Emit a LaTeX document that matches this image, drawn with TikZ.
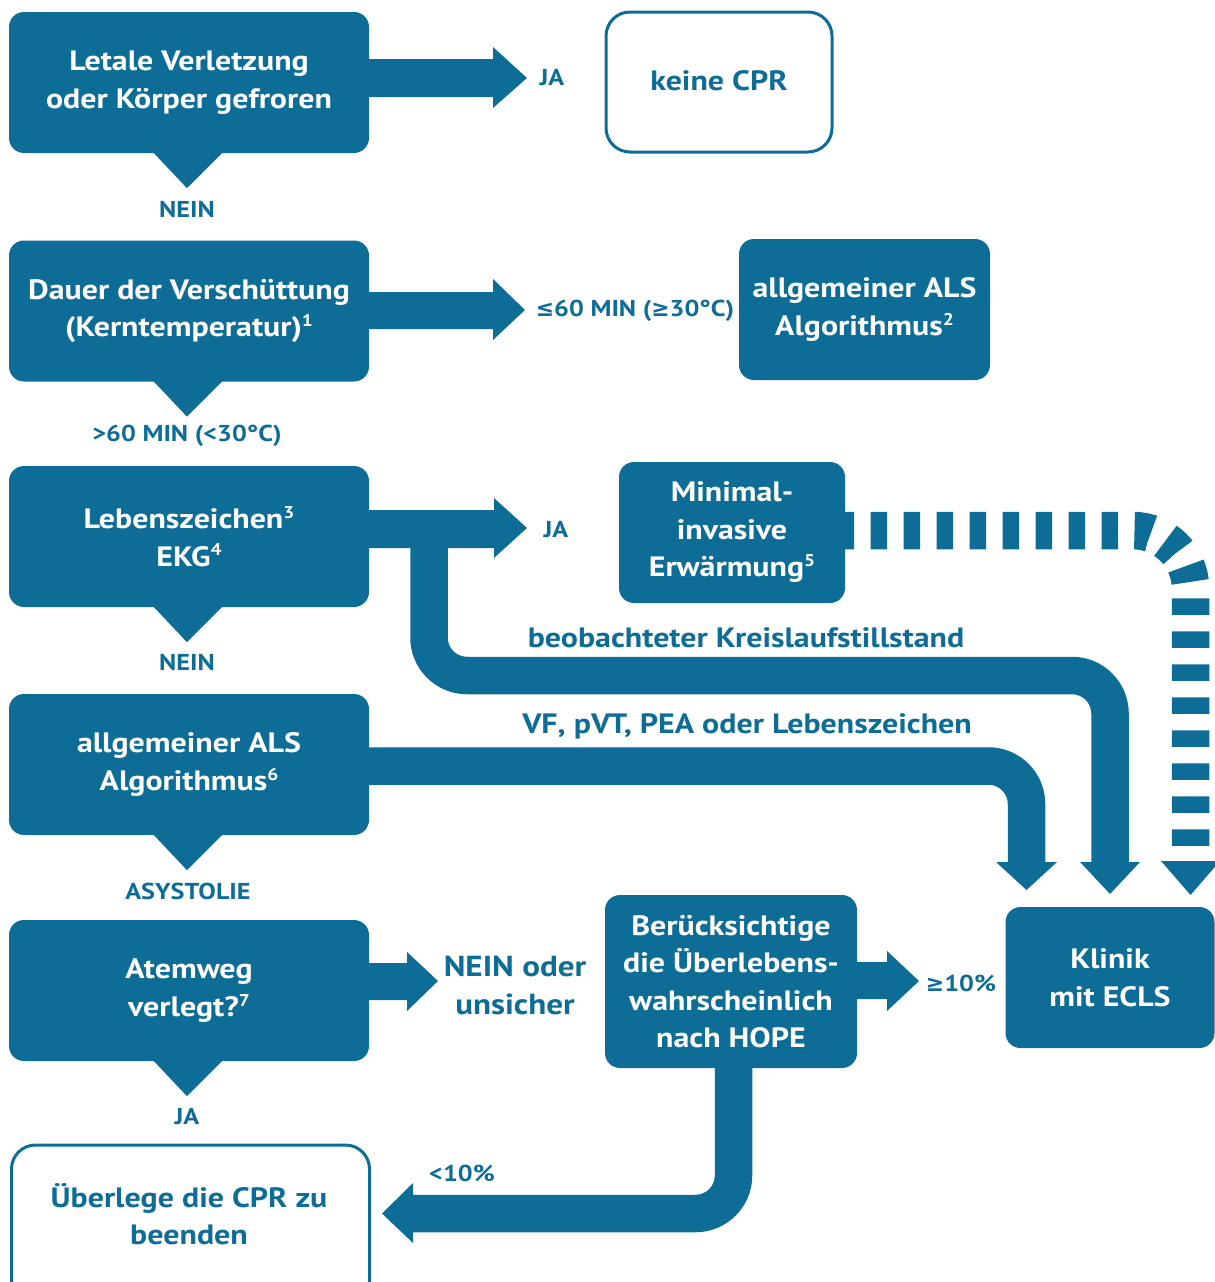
\documentclass[tikz,border=0pt]{standalone}
\usepackage{fontspec}
\setmainfont{PT Sans}[FakeStretch=1.14]
\newfontfamily\symfam{DejaVu Sans}[FakeStretch=0.95]
\definecolor{ercblue}{HTML}{0E6D96}
\newcommand\boxfont{\fontsize{28}{37.5}\selectfont\bfseries}
\newcommand\lblfont{\fontsize{23}{30}\selectfont\bfseries}
\newcommand\midfont{\fontsize{28}{37.5}\selectfont\bfseries}
\newcommand\sym[1]{{\symfam #1}}
\newcommand\sups[1]{\raisebox{0.36em}{\fontsize{17}{17}\selectfont #1}}
\tikzset{
  box/.style={fill=ercblue, rounded corners=15pt, minimum width=360pt,
    minimum height=141pt, text=white, font=\boxfont, align=center, inner sep=0pt},
  openbox/.style={box, fill=white, draw=ercblue, line width=3pt, text=ercblue,
    rounded corners=24pt},
  lbl/.style={text=ercblue, font=\lblfont, align=center, inner sep=0pt},
  conn/.style={draw=ercblue, line width=37.5pt, rounded corners=38pt},
  head/.style={fill=ercblue},
}
\begin{document}
\begin{tikzpicture}[x=1pt, y=-1pt]
\useasboundingbox (0,0) rectangle (1215,1282);

% decision boxes on the left
\node[box] (b1) at (189,82.5) {Letale Verletzung\\oder Körper gefroren};
\node[box] (b2) at (189,311) {Dauer der Verschüttung\\(Kerntemperatur)\sups{1}};
\node[box] (b3) at (189,536.5) {Lebenszeichen\sups{3}\\EKG\sups{4}};
\node[box] (b4) at (189,764.5) {allgemeiner ALS\\Algorithmus\sups{6}};
\node[box] (b5) at (189,990.5) {Atemweg\\verlegt?\sups{7}};
\node[openbox, minimum width=358pt, minimum height=160pt] (b6) at (190.5,1225) {};
\node[lbl, font=\boxfont] (b6text) at (189,1214) {Überlege die CPR zu\\beenden};

% outcome boxes
\node[openbox, minimum width=226pt, minimum height=140pt] (nocpr) at (719,82) {\raisebox{3pt}{keine CPR}};
\node[box, minimum width=251pt] (als) at (864.5,309.5) {allgemeiner ALS\\Algorithmus\sups{2}};
\node[box, minimum width=226pt] (warm) at (732,532.5) {Minimal-\\invasive\\Erwärmung\sups{5}};
\node[box, minimum width=252pt, minimum height=173pt] (hope) at (731,981.5)
  {Berücksichtige\\die Überlebens-\\wahrscheinlich\\nach HOPE};
\node[box, minimum width=209pt] (ecls) at (1110,977.5) {Klinik\\mit ECLS};

% pointers under the decision boxes
\foreach \b in {b1,b2,b3,b4,b5}
  \fill[ercblue] ([xshift=-36pt,yshift=1pt]\b.south) -- ([xshift=34pt,yshift=1pt]\b.south)
    -- ([xshift=-2pt,yshift=-35pt]\b.south) -- cycle;

% labels
\node[lbl] (l1) at (187,209) {NEIN};
\node[lbl] (l2) at (187,436) {>60 MIN (<30°C)};
\node[lbl] (l3) at (187,662) {NEIN};
\node[lbl] (l4) at (188,891) {ASYSTOLIE};
\node[lbl] (l5) at (187,1117) {JA};
\node[lbl] (r1) at (552,78) {JA};
\node[lbl] (r2) at (635,311) {\sym{≤}60 MIN (\sym{≥}30°C)};
\node[lbl] (r3) at (556,530) {JA};
\node[lbl, font=\fontsize{29}{38}\selectfont\bfseries] (r5) at (515,985) {NEIN oder\\unsicher};
\node[lbl] (r6) at (961,983) {\sym{≥}10\%};
\node[lbl] (r7) at (462,1173) {<10\%};
\node[lbl, font=\midfont] (k1) at (746,638) {beobachteter Kreislaufstillstand};
\node[lbl, font=\midfont] (k2) at (747,726) {VF, pVT, PEA oder Lebenszeichen};

% straight block arrows
\fill[ercblue] (b1.east |- 0,59) -- (493,59) -- (493,47) -- (527,78) -- (493,108) -- (493,97) -- (b1.east |- 0,97) -- cycle;
\fill[ercblue] (b2.east |- 0,292) -- (493,292) -- (493,279) -- (525,310) -- (493,340) -- (493,329) -- (b2.east |- 0,329) -- cycle;
\fill[ercblue] (b3.east |- 0,510) -- (494,510) -- (494,498) -- (527,528) -- (494,558) -- (494,548) -- (b3.east |- 0,548) -- cycle;
\fill[ercblue] (b5.east |- 0,963) -- (407,963) -- (407,952) -- (438,981) -- (407,1011) -- (407,1000) -- (b5.east |- 0,1000) -- cycle;
\fill[ercblue] (hope.east |- 0,962) -- (887,962) -- (887,951) -- (919,981) -- (887,1011) -- (887,999) -- (hope.east |- 0,999) -- cycle;

% witnessed arrest: branch off the vital-signs arrow
\coordinate (split) at (429,528);
\draw[conn] (split) -- (429,675.5) -- (1110,675.5) -- (1110,863);
\fill[ercblue] (1080,862) -- (1140,862) -- (1110,894) -- cycle;

% shockable rhythm from the ALS box
\draw[conn] ([xshift=-1pt]b4.east |- 0,766) -- (1026.5,766) -- (1026.5,863);
\fill[ercblue] (996,862) -- (1057,862) -- (1026.5,890) -- cycle;

% rewarming path, dashed
\draw[conn, rounded corners=58pt, dash pattern=on 16.5pt off 16.5pt, dash phase=7.7pt]
  (warm.east |- 0,530.5) -- (1190.5,530.5) -- (1190.5,861);
\fill[ercblue] (1161,861) -- (1220,861) -- (1190.5,895) -- cycle;

% HOPE below 10 percent
\draw[conn] ([yshift=1pt]hope.south -| 733.5,0) -- (733.5,1213.5) -- (412,1213.5);
\fill[ercblue] (413,1183) -- (413,1243) -- (382,1213.5) -- cycle;
\end{tikzpicture}
\end{document}
